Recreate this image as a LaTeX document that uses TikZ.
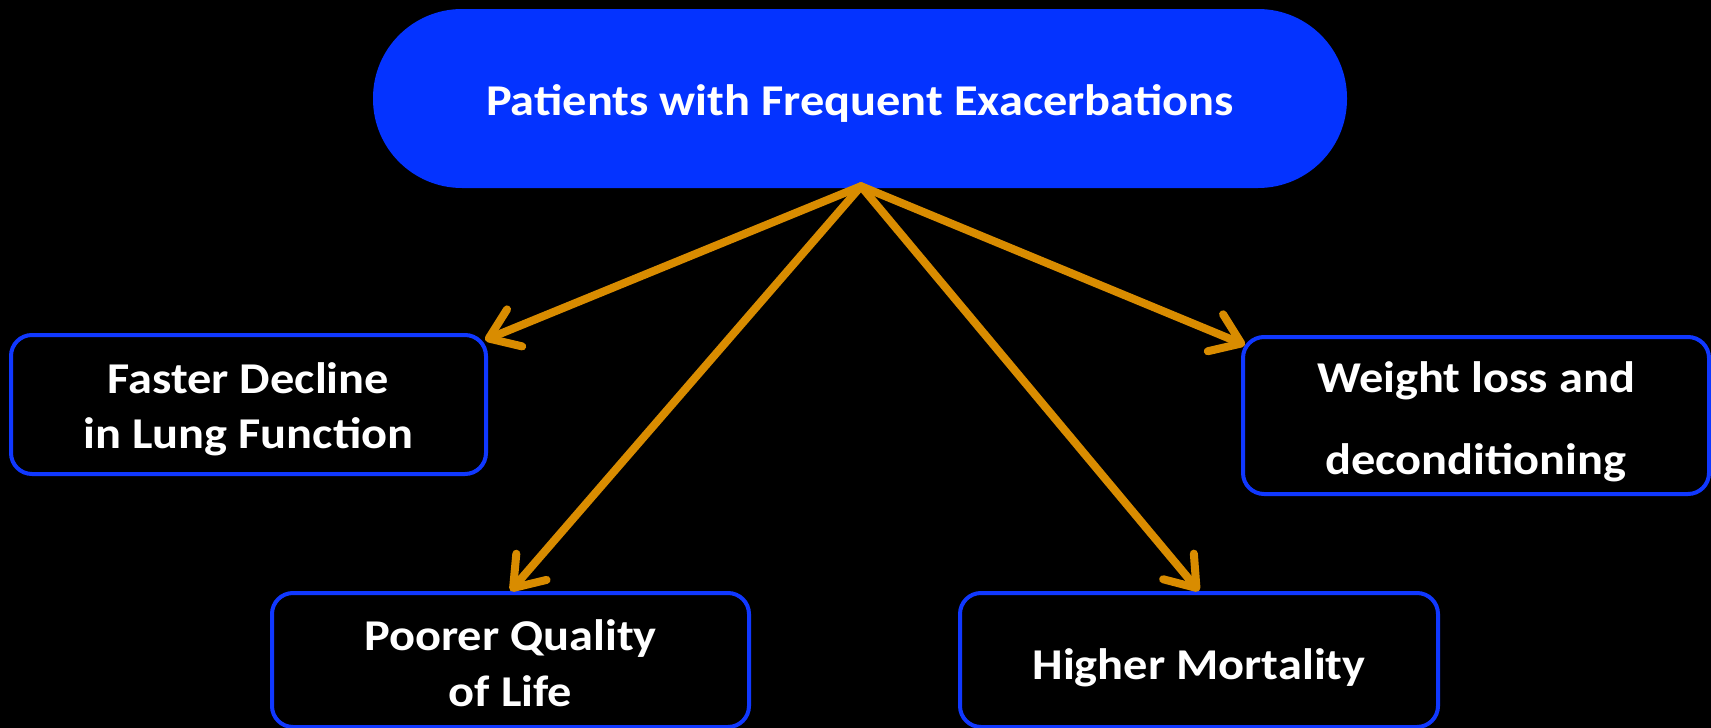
\documentclass[tikz,border=0pt]{standalone}
\usepackage{fontspec}
\setmainfont{Carlito}[FakeStretch=1.10]
\usetikzlibrary{arrows.meta,calc}
\definecolor{pillblue}{RGB}{4,51,255}
\definecolor{edgeblue}{RGB}{16,56,255}
\definecolor{arrowor}{RGB}{217,140,0}
\newcommand\labelfont[1]{\fontsize{44}{#1}\selectfont\bfseries}
\begin{document}
\begin{tikzpicture}[x=1pt,y=-1pt,
  every node/.style={font=\labelfont{55}, text=white, inner sep=0pt},
  pill/.style={fill=pillblue, rounded corners=89pt, minimum width=974pt, minimum height=179pt},
  effect/.style={draw=edgeblue, line width=4pt, rounded corners=21pt, fill=black, align=center},
  link/.style={draw=arrowor, line width=8pt, line cap=round,
    -{Straight Barb[length=28pt,width=40pt,line cap=round,line join=round]}}
]
% canvas
\fill[black] (0,0) rectangle (1711,728);
\useasboundingbox (0,0) rectangle (1711,728);

% cause
\node[pill, text height=44pt, text depth=10pt] (src) at (860,98.5)
  {Patients with Frequent Exacerbations};

% consequences (text height counted from the last baseline)
\node[effect, minimum width=475pt, minimum height=139pt,
      text height=97.6pt, text depth=10pt] (fd) at (248.5,404.5)
  {Faster Decline\\in Lung Function};
\node[effect, minimum width=477pt, minimum height=134pt, font=\labelfont{56},
      text height=102pt, text depth=10pt] (pq) at (510.5,660)
  {Poorer Quality\\of Life};
\node[effect, minimum width=478pt, minimum height=134pt,
      text height=49pt, text depth=10pt] (hm) at (1199,660)
  {Higher Mortality};
\node[effect, minimum width=466pt, minimum height=157pt, font=\labelfont{82},
      text height=127pt, text depth=10pt] (wl) at (1476,415.5)
  {Weight loss and\\deconditioning};

% links
\coordinate (hub) at ($(src.south)+(1,-2)$);
\draw[link] (hub) -- ($(fd.north east)+(-3,7)$);
\draw[link] (hub) -- (pq.north);
\draw[link] (hub) -- (hm.north);
\draw[link] (hub) -- ($(wl.north west)+(4,10)$);
\end{tikzpicture}
\end{document}
